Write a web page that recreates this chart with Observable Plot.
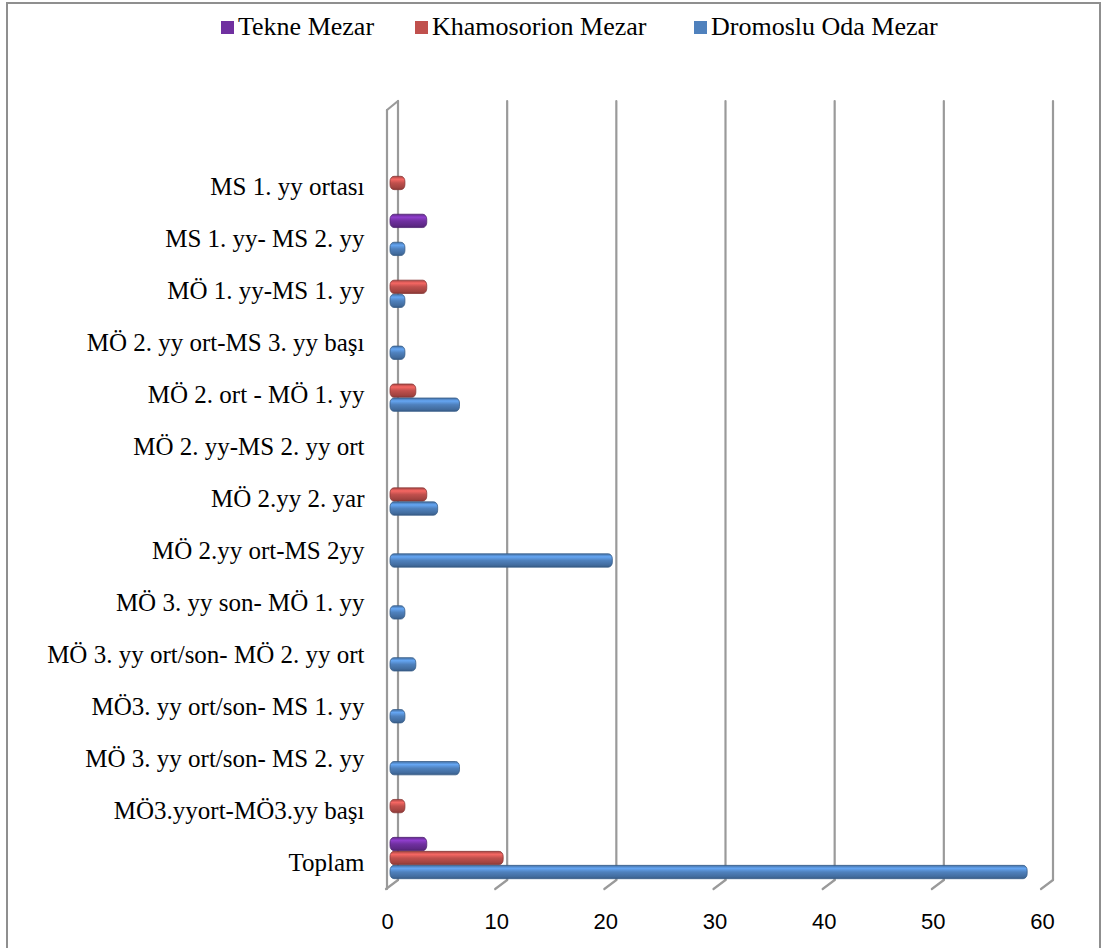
<!DOCTYPE html>
<html>
<head>
<meta charset="utf-8">
<script src="https://cdn.jsdelivr.net/npm/d3@7"></script>
<script src="https://cdn.jsdelivr.net/npm/@observablehq/plot@0.6"></script>
<style>
  html, body { margin: 0; padding: 0; background: #fff; }
  #chart { position: relative; width: 1105px; height: 948px; overflow: hidden; background: #fff; }
  #frame { position: absolute; left: 6px; top: 2px; width: 1095px; height: 980px; border: 2px solid #8f8f8f; box-sizing: border-box; }
  #legend { position: absolute; left: 0; top: 0; width: 1105px; height: 56px; font-family: "Liberation Serif", "DejaVu Serif", serif; font-size: 26px; color: #000; }
  .item { position: absolute; top: 12px; white-space: nowrap; line-height: 30px; }
  .sw { display: inline-block; width: 13px; height: 13px; margin-right: 4px; vertical-align: 1px; }
  #plot { position: absolute; left: 0; top: 56px; }
</style>
</head>
<body>
<div id="chart">
  <div id="frame"></div>
  <div id="legend"></div>
  <div id="plot"></div>
</div>
<script>
// ---- data ----
const categories = [
  "MS 1. yy ortası",
  "MS 1. yy- MS 2. yy",
  "MÖ 1. yy-MS 1. yy",
  "MÖ 2. yy ort-MS 3. yy başı",
  "MÖ 2. ort - MÖ 1. yy",
  "MÖ 2. yy-MS 2. yy ort",
  "MÖ 2.yy 2. yar",
  "MÖ 2.yy ort-MS 2yy",
  "MÖ 3. yy son- MÖ 1. yy",
  "MÖ 3. yy ort/son- MÖ 2. yy ort",
  "MÖ3. yy ort/son- MS 1. yy",
  "MÖ 3. yy ort/son- MS 2. yy",
  "MÖ3.yyort-MÖ3.yy başı",
  "Toplam"
];
const tekne       = [0, 3, 0, 0, 0, 0, 0, 0, 0, 0, 0, 0, 0, 3];
const khamosorion = [1, 0, 3, 0, 2, 0, 3, 0, 0, 0, 0, 0, 1, 10];
const dromoslu    = [0, 1, 1, 1, 6, 0, 4, 20, 1, 2, 1, 6, 0, 58];
const seriesNames = ["Tekne Mezar", "Khamosorion Mezar", "Dromoslu Oda Mezar"];
const seriesColors = ["#7030a0", "#c0504d", "#4f81bd"];
const xTicks = [0, 10, 20, 30, 40, 50, 60];

// ---- legend ----
const legendLeft = [221, 415, 694];
const legend = document.getElementById("legend");
seriesNames.forEach((name, i) => {
  const d = document.createElement("div");
  d.className = "item";
  d.style.left = legendLeft[i] + "px";
  d.innerHTML = `<span class="sw" style="background:${seriesColors[i]}"></span>${name}`;
  legend.appendChild(d);
});

// ---- build rows ----
const seriesValues = [tekne, khamosorion, dromoslu];
const rows = seriesValues.map((vals) =>
  categories.map((c, i) => ({category: c, value: vals[i]})).filter(d => d.value > 0)
);

const W = 1105, H = 892;
const marginTop = 45, marginBottom = 68, marginLeft = 387, marginRight = 63;

const gradIds = ["gPurple", "gRed", "gBlue"];
const dyOff = [-14, 0, 14];

const decor = (index, scales, values, dims) => {
  const x = scales.x;
  const top = dims.marginTop, bottom = dims.height - dims.marginBottom;
  const g = d3.create("svg:g").attr("stroke", "#9a9a9a").attr("stroke-width", 2.2).attr("fill", "none").attr("stroke-linecap", "round");
  const back = 11;
  for (const t of xTicks) {
    const bx = x(t) + back;
    g.append("line").attr("x1", bx).attr("x2", bx).attr("y1", top).attr("y2", bottom);
    g.append("line").attr("x1", bx).attr("y1", bottom).attr("x2", x(t) - 1).attr("y2", bottom + 9);
  }
  const fx = x(0);
  g.append("line").attr("x1", fx).attr("x2", fx).attr("y1", top + 9).attr("y2", bottom + 9);
  g.append("line").attr("x1", fx).attr("y1", top + 9).attr("x2", fx + back).attr("y2", top);
  return g.node();
};

const barMarks = rows.map((data, i) => Plot.barX(data, {
  x: "value",
  y: "category",
  fill: `url(#${gradIds[i]})`,
  stroke: d3.color(seriesColors[i]).darker(0.9).formatHex(),
  strokeWidth: 0.8,
  insetTop: 19.3,
  insetBottom: 19.3,
  insetLeft: -2,
  insetRight: -2,
  dx: 5,
  dy: dyOff[i],
  rx: 4,
  ry: 5
}));

const svg = Plot.plot({
  width: W,
  height: H,
  marginTop, marginBottom, marginLeft, marginRight,
  style: {background: "transparent", color: "#000", overflow: "visible"},
  x: {domain: [0, 60], range: [marginLeft, W - marginRight], axis: null},
  y: {domain: categories, range: [101, 828], padding: 0, round: false, axis: null},
  marks: [
    decor,
    ...barMarks,
    Plot.axisX(xTicks, {tickSize: 0, tickPadding: 33, fontSize: 22, fontFamily: "Liberation Sans, Arial, sans-serif", anchor: "bottom", label: null}),
    Plot.axisY({tickSize: 0, tickPadding: 23, fontSize: 25, fontFamily: "Liberation Serif, DejaVu Serif, serif", anchor: "left", dy: 4, label: null, style: {letterSpacing: "0.3px"}})
  ]
});

// gradient defs for the cylinder-like bars
const defs = d3.select(svg).insert("defs", ":first-child");
seriesColors.forEach((c, i) => {
  const base = d3.color(c);
  const lg = defs.append("linearGradient").attr("id", gradIds[i]).attr("x1", 0).attr("y1", 0).attr("x2", 0).attr("y2", 1);
  lg.append("stop").attr("offset", "0%").attr("stop-color", base.darker(0.4).formatHex());
  lg.append("stop").attr("offset", "22%").attr("stop-color", base.brighter(0.7).formatHex());
  lg.append("stop").attr("offset", "50%").attr("stop-color", base.formatHex());
  lg.append("stop").attr("offset", "85%").attr("stop-color", base.darker(0.5).formatHex());
  lg.append("stop").attr("offset", "100%").attr("stop-color", base.darker(1).formatHex());
});

document.getElementById("plot").appendChild(svg);
</script>
</body>
</html>
